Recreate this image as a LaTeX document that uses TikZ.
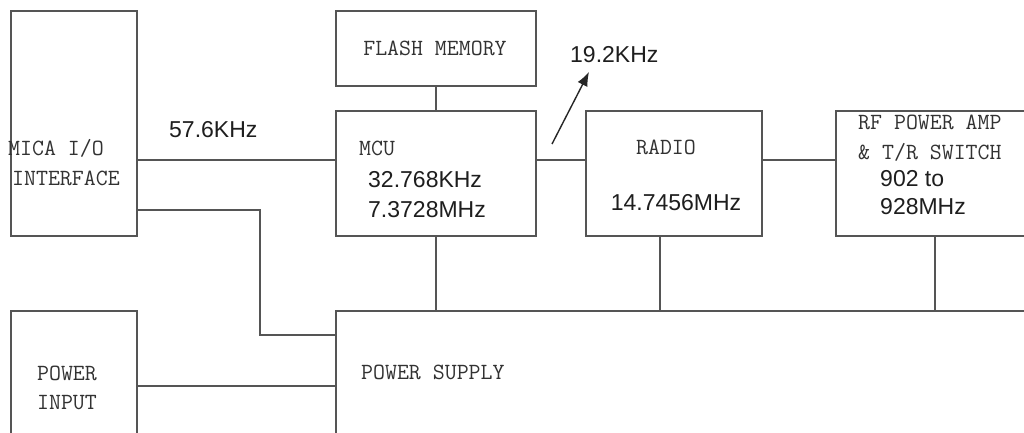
\documentclass[tikz,border=0pt]{standalone}
\usepackage{fontspec}
\setmainfont{Liberation Sans}
\usetikzlibrary{arrows.meta}
\definecolor{linecol}{RGB}{85,85,85}
\definecolor{ctext}{RGB}{50,50,50}
\definecolor{atext}{RGB}{30,30,30}
\tikzset{
  box/.style={draw=linecol, line width=1.6pt, rectangle, inner sep=0pt, anchor=north west},
  wire/.style={draw=linecol, line width=1.6pt},
  clab/.style={font=\ttfamily\fontsize{23.2}{25}\selectfont, text=ctext, inner sep=0pt},
  alab/.style={font=\fontsize{23}{25}\selectfont, text=atext, inner sep=0pt},
}
\begin{document}
\begin{tikzpicture}[x=1pt,y=-1pt]
\useasboundingbox (0,0) rectangle (1024,433);
\clip (0,0) rectangle (1024,433);
\fill[white] (0,0) rectangle (1024,433);
% boxes
\node[box, minimum width=126pt, minimum height=225pt] (mica) at (10,10) {};
\node[box, minimum width=126pt, minimum height=150pt] (pin) at (10,310) {};
\node[box, minimum width=200pt, minimum height=75pt] (flash) at (335,10) {};
\node[box, minimum width=200pt, minimum height=125pt] (mcu) at (335,110) {};
\node[box, minimum width=176pt, minimum height=125pt] (radio) at (585,110) {};
\node[box, minimum width=220pt, minimum height=125pt] (rf) at (835,110) {};
\node[box, minimum width=720pt, minimum height=150pt] (ps) at (335,310) {};
% level coordinates
\coordinate (ysig) at (0,160);
\coordinate (ypwr) at (0,210);
\coordinate (xbend) at (260,0);
\coordinate (ypsin) at (0,335);
\coordinate (yin) at (0,386);
\coordinate (xmcu) at (436,0);
\coordinate (xrad) at (660,0);
\coordinate (xrf) at (935,0);
\coordinate (arrS) at (552,144);
\coordinate (arrE) at (589,72);
% connectors
\draw[wire] (mica.east |- ysig) -- (mcu.west |- ysig);
\draw[wire] (mcu.east |- ysig) -- (radio.west |- ysig);
\draw[wire] (radio.east |- ysig) -- (rf.west |- ysig);
\draw[wire] (flash.south -| xmcu) -- (mcu.north -| xmcu);
\draw[wire] (mica.east |- ypwr) -- (xbend |- ypwr) -- (xbend |- ypsin) -- (ps.west |- ypsin);
\draw[wire] (pin.east |- yin) -- (ps.west |- yin);
\draw[wire] (mcu.south -| xmcu) -- (ps.north -| xmcu);
\draw[wire] (radio.south -| xrad) -- (ps.north -| xrad);
\draw[wire] (rf.south -| xrf) -- (ps.north -| xrf);
\draw[draw=black!85, line width=1.4pt, -{Latex[length=14pt,width=11pt]}] (arrS) -- (arrE);
% labels
\node[clab, anchor=west] (l1) at (8,148) {MICA I/O};
\node[clab, anchor=west] (l2) at (12,178) {INTERFACE};
\node[clab] (l3) at (67,373) {POWER};
\node[clab] (l4) at (67,403) {INPUT};
\node[clab] (l5) at (435,48) {FLASH MEMORY};
\node[clab, anchor=west] (l6) at (359,148) {MCU};
\node[alab, anchor=west] (l7) at (368,180) {32.768KHz};
\node[alab, anchor=west] (l8) at (368,210) {7.3728MHz};
\node[clab] (l9) at (666,147) {RADIO};
\node[alab] (l10) at (676,203) {14.7456MHz};
\node[clab, anchor=west] (l11) at (858,122) {RF POWER AMP};
\node[clab, anchor=west] (l12) at (858,152) {\& T/R SWITCH};
\node[alab, anchor=west] (l13) at (880,179) {902 to};
\node[alab, anchor=west] (l14) at (880,207) {928MHz};
\node[clab, anchor=west] (l15) at (361,372) {POWER SUPPLY};
\node[alab, anchor=west] (l16) at (169,130) {57.6KHz};
\node[alab, anchor=west] (l17) at (570,55) {19.2KHz};
\end{tikzpicture}
\end{document}
